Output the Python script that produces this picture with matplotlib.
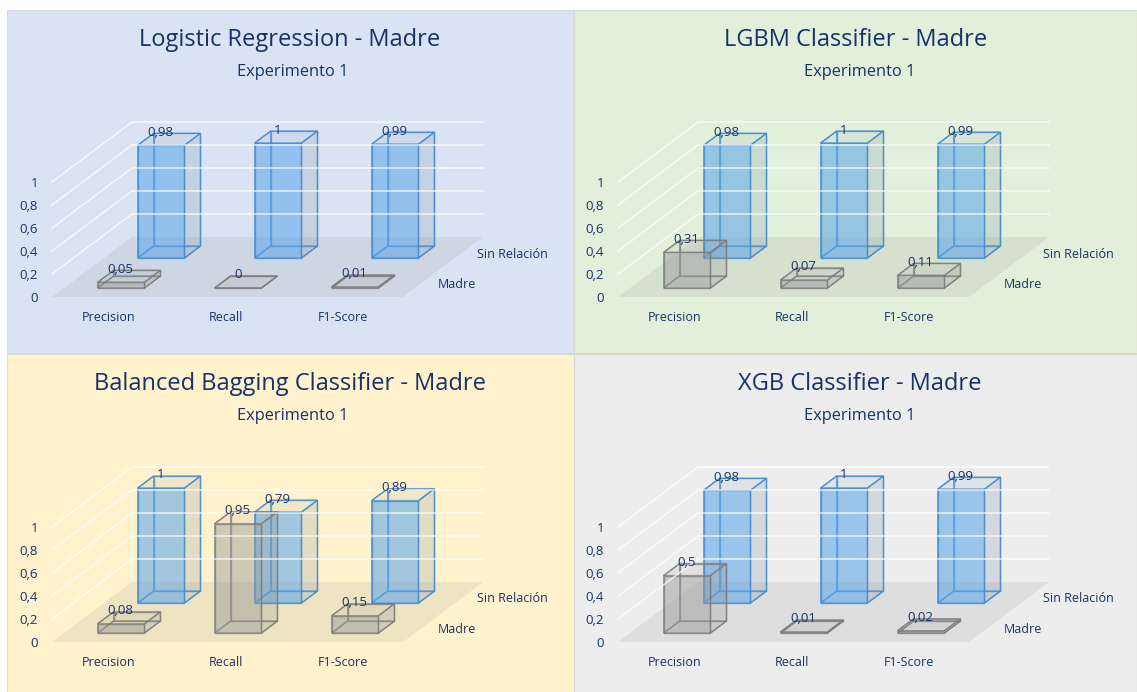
""" Grouped pseudo-3D bars of classifier metrics, one panel per model. """
import matplotlib
matplotlib.use('Agg')
import matplotlib.pyplot as plt
from matplotlib.patches import Polygon, Rectangle

plt.rcParams['font.family'] = ['Open Sans', 'DejaVu Sans']

metrics = ['Precision', 'Recall', 'F1-Score']
rows = ['Madre', 'Sin Relación']
ticks = [0, 0.2, 0.4, 0.6, 0.8, 1]

logistic_madre = [0.05, 0, 0.01]
logistic_sin = [0.98, 1, 0.99]
lgbm_madre = [0.31, 0.07, 0.11]
lgbm_sin = [0.98, 1, 0.99]
bagging_madre = [0.08, 0.95, 0.15]
bagging_sin = [1, 0.79, 0.89]
xgb_madre = [0.5, 0.01, 0.02]
xgb_sin = [0.98, 1, 0.99]

NAVY = '#17326b'
W, H = 1137, 692
UNIT_X, DEPTH_X, DEPTH_Y, UNIT_Z = 351, 80, 60, 115


def fmt(v):
    """ Decimal comma, no trailing zeros. """
    return f'{v:g}'.replace('.', ',')


def draw_bar(ax, pr, i, row, value, face, side, edge, front_alpha):
    """ Draw one translucent box, back faces first. """
    x0, x1 = (i + 0.288) / 3, (i + 0.688) / 3
    d0, d1 = row * 0.5 + 0.15, row * 0.5 + 0.35
    faces = [
        ([(x0, d1, 0), (x1, d1, 0), (x1, d1, value), (x0, d1, value)], side, 0.03),
        ([(x0, d0, 0), (x0, d1, 0), (x0, d1, value), (x0, d0, value)], side, 0.03),
        ([(x0, d0, 0), (x1, d0, 0), (x1, d1, 0), (x0, d1, 0)], side, 0.06),
        ([(x1, d0, 0), (x1, d1, 0), (x1, d1, value), (x1, d0, value)], side, 0.2),
        ([(x0, d0, value), (x1, d0, value), (x1, d1, value), (x0, d1, value)], side, 0.08),
        ([(x0, d0, 0), (x1, d0, 0), (x1, d0, value), (x0, d0, value)], face, front_alpha),
    ]
    for corners, color, alpha in faces:
        pts = [pr(*k) for k in corners]
        ax.add_patch(Polygon(pts, closed=True, facecolor=color, alpha=alpha, edgecolor='none'))
        ax.add_patch(Polygon(pts, closed=True, facecolor='none', edgecolor=edge, lw=1.0,
                             alpha=0.7, joinstyle='miter'))
    tx, ty = pr(x0, d1, value)
    ax.text(tx + 7, ty - 1, fmt(value), color=NAVY, fontsize=9.5, ha='center', va='center')


def draw_panel(ax, box, bg, ox, oy, title, title_x, sub_x, madre, sin):
    """ One chart: background, floor, grid, bars and labels. """
    px, py, pw, ph = box
    ax.add_patch(Rectangle((px, py), pw, ph, facecolor=bg, edgecolor='#d9d9d9', lw=0.8))

    def pr(x, d, z):
        return ox + x * UNIT_X + d * DEPTH_X, oy - d * DEPTH_Y - z * UNIT_Z

    ax.add_patch(Polygon([pr(0, 0, 0), pr(1, 0, 0), pr(1, 1, 0), pr(0, 1, 0)],
                         closed=True, facecolor='#7f7f7f', alpha=0.13, edgecolor='none'))
    for t in ticks:
        xs, ys = zip(pr(0, 0, t), pr(0, 1, t), pr(1, 1, t))
        if t > 0:
            ax.plot(xs, ys, color='white', lw=1.2, alpha=0.7)
        ax.text(ox - 14, oy + 1.5 - t * UNIT_Z, fmt(t), color=NAVY, fontsize=9.5,
                ha='right', va='center')

    for i, v in enumerate(sin):
        draw_bar(ax, pr, i, 1, v, '#5ba6ec', '#7f93a6', '#3f87cf', 0.55)
    for i, v in enumerate(madre):
        draw_bar(ax, pr, i, 0, v, '#9a9a9a', '#8c8c8c', '#7a7a7a', 0.45)

    for i, name in enumerate(metrics):
        ax.text(ox + 57 + i * 117, oy + 20.5, name, color=NAVY, fontsize=9,
                ha='center', va='center')
    ax.text(ox + 405, oy - 12.5, rows[0], color=NAVY, fontsize=9, ha='center', va='center')
    ax.text(ox + 460, oy - 43, rows[1], color=NAVY, fontsize=9, ha='center', va='center')

    ax.text(title_x, py + 29.5, title, color=NAVY, fontsize=17, ha='center', va='center')
    ax.text(sub_x, py + 62, 'Experimento 1', color=NAVY, fontsize=11.8, ha='center', va='center')


if __name__ == '__main__':
    fig = plt.figure(figsize=(W / 100, H / 100), dpi=100)
    ax = fig.add_axes([0, 0, 1, 1])
    ax.set_xlim(0, W)
    ax.set_ylim(H, 0)
    ax.axis('off')

    draw_panel(ax, (7, 10, 567, 343), '#dae3f3', 52, 297,
               'Logistic Regression - Madre', 290, 293, logistic_madre, logistic_sin)
    draw_panel(ax, (574, 10, 563, 343), '#e2efda', 618, 297,
               'LGBM Classifier - Madre', 856, 860, lgbm_madre, lgbm_sin)
    draw_panel(ax, (7, 354, 567, 338), '#fff2cc', 52, 642,
               'Balanced Bagging Classifier - Madre', 290, 293, bagging_madre, bagging_sin)
    draw_panel(ax, (574, 354, 563, 338), '#ededed', 618, 642,
               'XGB Classifier - Madre', 860, 860, xgb_madre, xgb_sin)

    fig.savefig('out.png', dpi=100)
